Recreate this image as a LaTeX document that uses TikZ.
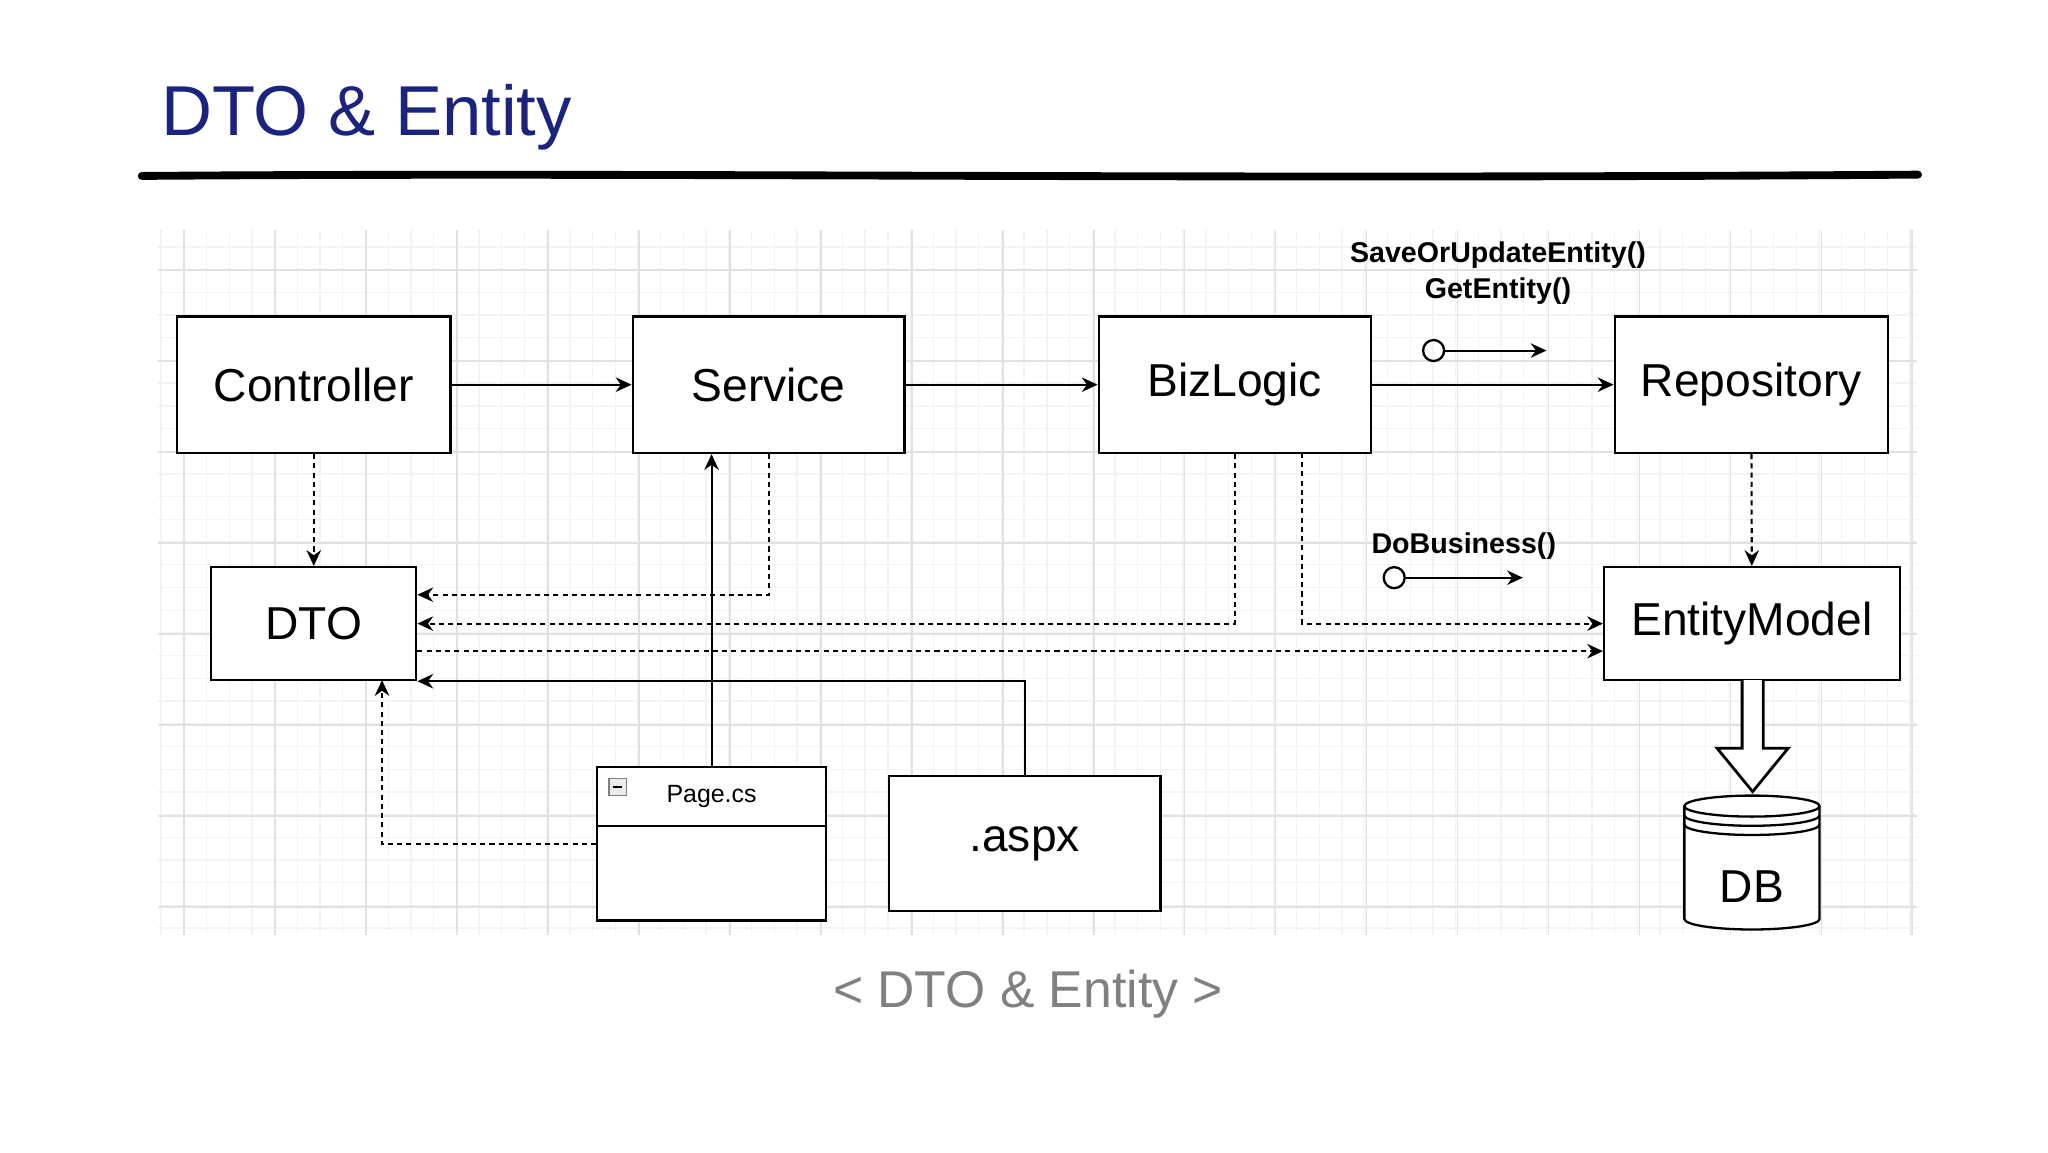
\documentclass[tikz,border=0pt]{standalone}
\usepackage{fontspec}
\setmainfont{Liberation Sans}
\usetikzlibrary{arrows.meta,shapes.geometric}
\definecolor{titleblue}{RGB}{26,35,126}
\definecolor{gridmaj}{RGB}{225,225,229}
\definecolor{gridmin}{RGB}{243,243,245}
\begin{document}
\begin{tikzpicture}[x=0.01cm,y=-0.01cm,
  box/.style={draw,line width=0.5pt,fill=white,inner sep=0pt,font=\fontsize{10}{12}\selectfont},
  con/.style={line width=0.45pt,-{Stealth[length=1.2mm,width=1.1mm]}},
  dsh/.style={con,dash pattern=on 1.1pt off 0.9pt},
  lab/.style={font=\bfseries\fontsize{6.2}{7}\selectfont,align=center,inner sep=0pt}]
\useasboundingbox (0,0) rectangle (1560,877.5);
% grid
\foreach \x in {122.7,140,...,1460} \draw[gridmin,line width=0.3pt] (\x,175) -- (\x,712);
\foreach \y in {188,205.3,...,712} \draw[gridmin,line width=0.3pt] (120,\y) -- (1460,\y);
\foreach \x in {140,209.3,...,1460} \draw[gridmaj,line width=0.4pt] (\x,175) -- (\x,712);
\foreach \y in {205.5,274.8,...,712} \draw[gridmaj,line width=0.4pt] (120,\y) -- (1460,\y);
% title
\node[anchor=base west,text=titleblue,font=\fontsize{15.3}{18}\selectfont,inner sep=0pt] (title) at (122,103) {DTO \& Entity};
\draw[line width=1.7pt,line cap=round] (108,134) .. controls (500,131) and (900,137) .. (1461,133);
\node[text=gray,font=\fontsize{11.2}{13}\selectfont,inner sep=0pt] (sub) at (783,757) {< DTO \& Entity >};
% boxes
\node[box,minimum width=2.08cm,minimum height=1.04cm] (ctrl) at (239,293) {Controller};
\node[box,minimum width=2.07cm,minimum height=1.04cm] (svc) at (585.5,293) {Service};
\node[box,minimum width=2.07cm,minimum height=1.04cm] (biz) at (940.5,293) {BizLogic};
\node[box,minimum width=2.08cm,minimum height=1.04cm] (repo) at (1334,293) {Repository};
\node[box,minimum width=1.56cm,minimum height=0.86cm] (dto) at (239,475) {DTO};
\node[box,minimum width=2.25cm,minimum height=0.86cm] (ent) at (1334.5,475) {EntityModel};
\node[box,minimum width=2.07cm,minimum height=1.03cm] (aspx) at (780.5,642.5) {.aspx};
\node[box,minimum width=1.74cm,minimum height=1.17cm] (page) at (542,642.5) {};
\draw[line width=0.5pt] (455,629) -- (629,629);
\node[font=\fontsize{5.4}{7}\selectfont,inner sep=0pt] (pagel) at (542,607) {Page.cs};
\draw[gray,fill=gray!15,line width=0.3pt] (464,593) rectangle (477,606);
\draw[line width=0.5pt] (467,599.5) -- (474,599.5);
% DB cylinder
\draw[line width=0.5pt,fill=white] (1283,614) -- (1283,700) arc[start angle=180,end angle=360,x radius=51.5,y radius=-8] -- (1386,614) arc[start angle=0,end angle=180,x radius=51.5,y radius=-8] -- cycle;
\draw[line width=0.5pt] (1283,614) arc[start angle=180,end angle=360,x radius=51.5,y radius=-8];
\draw[line width=0.5pt] (1283,621) arc[start angle=180,end angle=360,x radius=51.5,y radius=-8];
\draw[line width=0.5pt] (1283,628) arc[start angle=180,end angle=360,x radius=51.5,y radius=-8];
\node[font=\fontsize{10}{12}\selectfont,inner sep=0pt] (dbl) at (1334.5,675) {DB};
% block arrow
\draw[line width=0.6pt,fill=white] (1327,518) -- (1327,570) -- (1308,570) -- (1335,603) -- (1362,570) -- (1343,570) -- (1343,518);
% connectors
\draw[con] (ctrl) -- (svc);
\draw[con] (svc) -- (biz);
\draw[con] (biz) -- (repo);
\draw[dsh] (ctrl) -- (dto);
\draw[dsh] (repo) -- (ent);
\draw[dsh] (svc.south) |- (dto.east |- 0,453);
\draw[dsh] (biz.south) |- (dto.east);
\draw[dsh] (992,345) |- (ent.west);
\draw[dsh] (dto.east |- 0,496) -- (ent.west |- 0,496);
\draw[con] (aspx.north) |- (dto.south east);
\draw[con] (page.north) -- (page.north |- svc.south);
\draw[dsh] (page.west |- 0,643) -| (291,518);
% lollipops
\node[lab] (l1) at (1141,208) {SaveOrUpdateEntity()\\[1pt]GetEntity()};
\node[circle,draw,line width=0.5pt,minimum size=0.16cm,inner sep=0pt] (c1) at (1092,267) {};
\coordinate (e1) at (1178,267);
\draw[con] (c1) -- (e1);
\node[lab] (l2) at (1115,416) {DoBusiness()};
\node[circle,draw,line width=0.5pt,minimum size=0.16cm,inner sep=0pt] (c2) at (1062,440) {};
\coordinate (e2) at (1160,440);
\draw[con] (c2) -- (e2);
\end{tikzpicture}
\end{document}
